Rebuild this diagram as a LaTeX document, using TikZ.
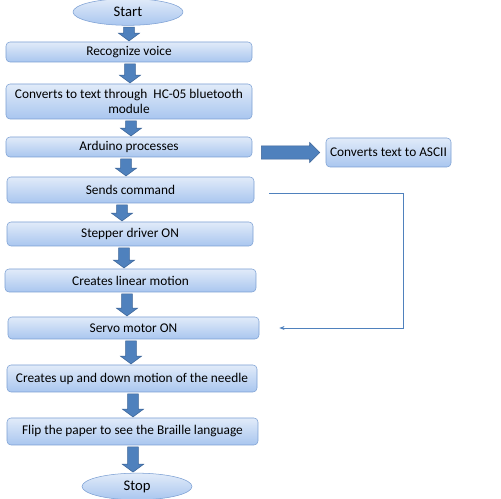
\documentclass[tikz,border=0pt]{standalone}
\usepackage{fontspec}
\setmainfont{Carlito}
\usetikzlibrary{shapes.geometric,arrows.meta,calc}
\definecolor{boxtop}{HTML}{E1EBF9}
\definecolor{boxbot}{HTML}{A9C6EF}
\definecolor{boxline}{HTML}{7B9FD3}
\definecolor{arrowfill}{HTML}{4F81BD}
\definecolor{arrowline}{HTML}{3A6397}

% block arrow from one box down to the next, #3 = x in px
\newcommand{\flowarrow}[3]{%
  \path[blockarrow] let \p1=(#1.south), \p2=(#2.north), \p3=(#3,0) in
    (\x3-4pt,\y1-1.2pt) -- (\x3+4pt,\y1-1.2pt) -- (\x3+4pt,\y2+6.5pt)
    -- (\x3+8pt,\y2+6.5pt) -- (\x3,\y2+0.6pt) -- (\x3-8pt,\y2+6.5pt)
    -- (\x3-4pt,\y2+6.5pt) -- cycle;}

\begin{document}
\begin{tikzpicture}[x=0.75pt,y=-0.75pt,
    stepbox/.style={draw=boxline,rounded corners=3pt,top color=boxtop,bottom color=boxbot,
      inner sep=1pt,align=center,font=\fontsize{10}{11.5}\selectfont},
    terminal/.style={ellipse,draw=boxline,top color=boxtop,bottom color=boxbot,
      inner sep=0pt,minimum width=82.5pt,minimum height=20pt,font=\fontsize{11}{12}\selectfont},
    blockarrow/.style={fill=arrowfill,draw=arrowline,line width=0.4pt},
    feedback/.style={draw=arrowfill,line width=0.6pt,-{Stealth[length=4pt,width=3pt]}}]
  \useasboundingbox (0,0) rectangle (501,499);

  \node[terminal] (start) at (128,12) {Start};
  \node[stepbox,minimum width=184.5pt,minimum height=15pt] (recog) at (129,52) {Recognize voice};
  \node[stepbox,minimum width=184.5pt,minimum height=26.25pt] (convert) at (129,101.5)
    {Converts to text through~~HC-05 bluetooth\\module};
  \node[stepbox,minimum width=184.5pt,minimum height=15pt] (arduino) at (129,147) {Arduino processes};
  \node[stepbox,minimum width=93.75pt,minimum height=21.75pt] (ascii) at (388.5,152.5) {Converts text to ASCII};
  \node[stepbox,minimum width=185.25pt,minimum height=19.5pt] (send) at (130.5,190) {Sends command};
  \node[stepbox,minimum width=184.5pt,minimum height=18pt] (stepper) at (130,234) {Stepper driver ON};
  \node[stepbox,minimum width=188.25pt,minimum height=17.25pt] (linear) at (130.5,280.5) {Creates linear motion};
  \node[stepbox,minimum width=188.25pt,minimum height=16.5pt] (servo) at (133.5,328) {Servo motor ON};
  \node[stepbox,minimum width=187.5pt,minimum height=20.25pt] (needle) at (132,378.5)
    {Creates up and down motion of the needle};
  \node[stepbox,minimum width=188.25pt,minimum height=20.25pt] (flip) at (132.5,431.5)
    {Flip the paper to see the Braille language};
  \node[terminal] (stop) at (137,486.5) {Stop};

  \flowarrow{start}{recog}{129}
  \flowarrow{recog}{convert}{130}
  \flowarrow{convert}{arduino}{131}
  \flowarrow{arduino}{send}{126}
  \flowarrow{send}{stepper}{122}
  \flowarrow{stepper}{linear}{124}
  \flowarrow{linear}{servo}{127}
  \flowarrow{servo}{needle}{131}
  \flowarrow{needle}{flip}{133}
  \flowarrow{flip}{stop}{133}

  \path[blockarrow] let \p1=(arduino.east), \p2=(ascii.west) in
    (\x1+6.75pt,\y2+4.9pt) -- (\x2-12pt,\y2+4.9pt) -- (\x2-12pt,\y2+7.5pt)
    -- (\x2-4.5pt,\y2) -- (\x2-12pt,\y2-7.5pt) -- (\x2-12pt,\y2-4.9pt)
    -- (\x1+6.75pt,\y2-4.9pt) -- cycle;

  \draw[feedback] ([xshift=11.25pt,yshift=-2.25pt]send.east) -- ++(100.5pt,0)
    |- ([xshift=15pt]servo.east);
\end{tikzpicture}
\end{document}
